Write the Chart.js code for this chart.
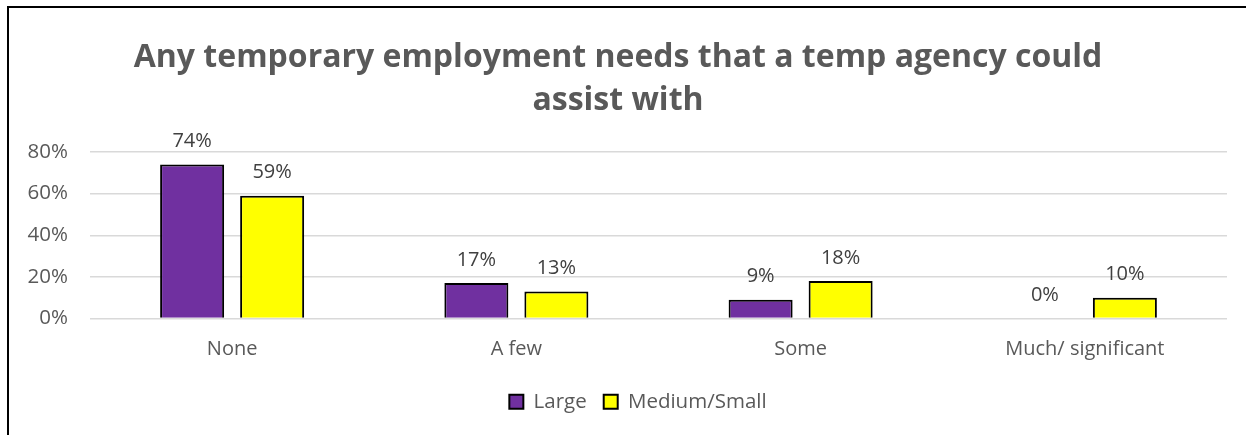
<!DOCTYPE html>
<html lang="en">
<head>
    <meta charset="UTF-8">
    <title>Temporary Employment Needs</title>
    <script src="https://cdn.jsdelivr.net/npm/chart.js"></script>
    <style>
        html, body { margin: 0; padding: 0; background: #fff; }
        #frame {
            position: absolute;
            left: 7px;
            top: 6px;
            width: 1239px;
            height: 429px;
            border-left: 2px solid #000;
            border-top: 2px solid #000;
        }
        #wrap { position: absolute; left: 0; top: 0; width: 1237px; height: 427px; }
    </style>
</head>
<body>
    <div id="frame">
        <div id="wrap"><canvas id="needsChart"></canvas></div>
    </div>
    <script>
        const categories = ['None', 'A few', 'Some', 'Much/ significant'];
        const largeValues = [74, 17, 9, 0];
        const mediumSmallValues = [59, 13, 18, 10];
        const seriesNames = ['Large', 'Medium/Small'];
        const titleLines = ['Any temporary employment needs that a temp agency could', 'assist with'];

        const FONT = '"Open Sans", "Liberation Sans", sans-serif';
        const GRAY = '#595959';

        // writes the percentage above each bar
        const valueLabels = {
            id: 'valueLabels',
            afterDatasetsDraw(chart) {
                const ctx = chart.ctx;
                ctx.save();
                ctx.font = '20px ' + FONT;
                ctx.fillStyle = '#404040';
                ctx.textAlign = 'center';
                ctx.textBaseline = 'middle';
                chart.data.datasets.forEach((ds, i) => {
                    chart.getDatasetMeta(i).data.forEach((bar, j) => {
                        ctx.fillText(ds.data[j] + '%', bar.x, bar.y - 23);
                    });
                });
                ctx.restore();
            }
        };

        // nudge the legend a little right of the title's centre line
        const legendShift = {
            id: 'legendShift',
            afterLayout(chart) {
                if (chart.legend) {
                    chart.legend.left += 20;
                    chart.legend.right += 20;
                }
            }
        };

        const ctx = document.getElementById('needsChart').getContext('2d');
        new Chart(ctx, {
            type: 'bar',
            data: {
                labels: categories,
                datasets: [
                    {
                        label: seriesNames[0],
                        data: largeValues,
                        backgroundColor: '#7030A0',
                        borderColor: '#000',
                        borderWidth: 2,
                        borderSkipped: 'bottom'
                    },
                    {
                        label: seriesNames[1],
                        data: mediumSmallValues,
                        backgroundColor: '#FFFF00',
                        borderColor: '#000',
                        borderWidth: 2,
                        borderSkipped: 'bottom'
                    }
                ]
            },
            options: {
                responsive: true,
                maintainAspectRatio: false,
                animation: false,
                datasets: {
                    bar: { categoryPercentage: 0.563, barPercentage: 0.8 }
                },
                layout: { padding: { left: 0, right: 19, top: 0, bottom: 13 } },
                scales: {
                    x: {
                        grid: { display: false },
                        border: { display: false },
                        ticks: { color: GRAY, font: { family: FONT, size: 20 }, padding: 11 },
                        afterFit: (scale) => { scale.height = 56; }
                    },
                    y: {
                        min: 0,
                        max: 80,
                        grid: { color: '#d9d9d9', lineWidth: 1.5, drawTicks: false },
                        border: { display: false },
                        ticks: {
                            stepSize: 20,
                            color: GRAY,
                            padding: 22,
                            font: { family: FONT, size: 20.5 },
                            callback: (v) => v + '%'
                        },
                        afterFit: (scale) => { scale.width = 81; }
                    }
                },
                plugins: {
                    title: {
                        display: true,
                        text: titleLines,
                        color: GRAY,
                        font: { family: FONT, size: 32, weight: 'bold', lineHeight: 1.344 },
                        padding: { top: 28, bottom: 30 }
                    },
                    legend: {
                        position: 'bottom',
                        labels: {
                            color: GRAY,
                            font: { family: FONT, size: 20.5 },
                            boxWidth: 14,
                            boxHeight: 14,
                            padding: 17
                        }
                    },
                    tooltip: { enabled: false }
                }
            },
            plugins: [valueLabels, legendShift]
        });
    </script>
</body>
</html>
